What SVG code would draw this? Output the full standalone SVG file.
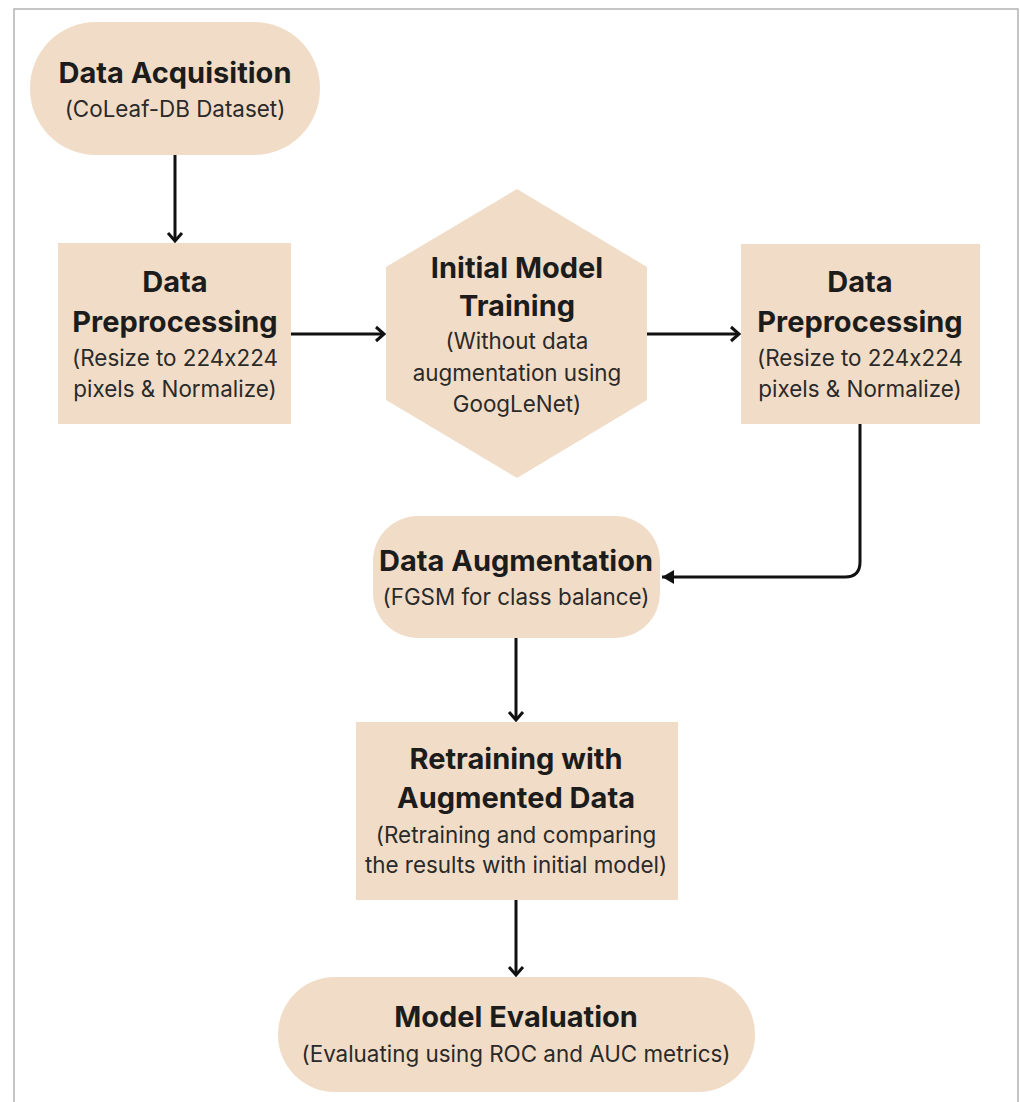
<svg xmlns="http://www.w3.org/2000/svg" width="1020" height="1102" viewBox="0 0 1020 1102">
<style>
.n{fill:#F1DDC7}
.t{font-family:Inter,"Noto Sans","Liberation Sans",sans-serif;font-weight:700;font-size:29px;fill:#1c1c1c;text-anchor:middle;font-feature-settings:"calt" 0}
.s{font-family:Inter,"Noto Sans","Liberation Sans",sans-serif;font-weight:400;font-size:22.4px;fill:#2a2a2a;text-anchor:middle;font-feature-settings:"calt" 0}
.c{fill:none;stroke:#111;stroke-width:3}
</style>
<defs>
<marker id="open" markerUnits="userSpaceOnUse" markerWidth="20" markerHeight="20" refX="14" refY="10" orient="auto">
<path d="M6,3 L14,10 L6,17" fill="none" stroke="#111" stroke-width="3"/>
</marker>
<marker id="fill" markerUnits="userSpaceOnUse" markerWidth="20" markerHeight="20" refX="16" refY="10" orient="auto">
<path d="M4,3 L16,10 L4,17 Z" fill="#111"/>
</marker>
</defs>
<rect x="0" y="0" width="1020" height="1102" fill="#fff"/>
<path d="M14,1102 V9 H1018 V1102" fill="none" stroke="#b3b3b3" stroke-width="1.5"/>
<g id="connectors">
<path class="c" d="M175,155 V241" marker-end="url(#open)"/>
<path class="c" d="M291,334 H384" marker-end="url(#open)"/>
<path class="c" d="M647,334 H739" marker-end="url(#open)"/>
<path class="c" d="M860,424 V562 Q860,577 845,577 H662" marker-end="url(#fill)"/>
<path class="c" d="M516,638 V720" marker-end="url(#open)"/>
<path class="c" d="M516,900 V975" marker-end="url(#open)"/>
</g>
<g id="acquisition">
<rect class="n" x="30" y="22" width="290" height="133" rx="66" ry="66"/>
<text class="t" x="175" y="83">Data Acquisition</text>
<text class="s" x="175" y="117">(CoLeaf-DB Dataset)</text>
</g>
<g id="preprocessing1">
<rect class="n" x="58" y="243" width="233" height="181"/>
<text class="t" x="175" y="292">Data</text>
<text class="t" x="175" y="332">Preprocessing</text>
<text class="s" x="175" y="366">(Resize to 224x224</text>
<text class="s" x="175" y="397">pixels &amp; Normalize)</text>
</g>
<g id="training">
<polygon class="n" points="517,189 647,267 647,400 517,478 386,400 386,267"/>
<text class="t" x="517" y="278">Initial Model</text>
<text class="t" x="517" y="316">Training</text>
<text class="s" x="517" y="349">(Without data</text>
<text class="s" x="517" y="381">augmentation using</text>
<text class="s" x="517" y="412">GoogLeNet)</text>
</g>
<g id="preprocessing2">
<rect class="n" x="741" y="244" width="239" height="180"/>
<text class="t" x="860" y="292">Data</text>
<text class="t" x="860" y="332">Preprocessing</text>
<text class="s" x="860" y="366">(Resize to 224x224</text>
<text class="s" x="860" y="397">pixels &amp; Normalize)</text>
</g>
<g id="augmentation">
<rect class="n" x="373" y="516" width="287" height="122" rx="45" ry="45"/>
<text class="t" x="516" y="571">Data Augmentation</text>
<text class="s" x="516" y="605">(FGSM for class balance)</text>
</g>
<g id="retraining">
<rect class="n" x="356" y="722" width="322" height="178"/>
<text class="t" x="516" y="769">Retraining with</text>
<text class="t" x="516" y="808">Augmented Data</text>
<text class="s" x="516" y="843">(Retraining and comparing</text>
<text class="s" x="516" y="873">the results with initial model)</text>
</g>
<g id="evaluation">
<rect class="n" x="278" y="977" width="477" height="115" rx="57" ry="57"/>
<text class="t" x="516" y="1027">Model Evaluation</text>
<text class="s" x="516" y="1062">(Evaluating using ROC and AUC metrics)</text>
</g>
</svg>
